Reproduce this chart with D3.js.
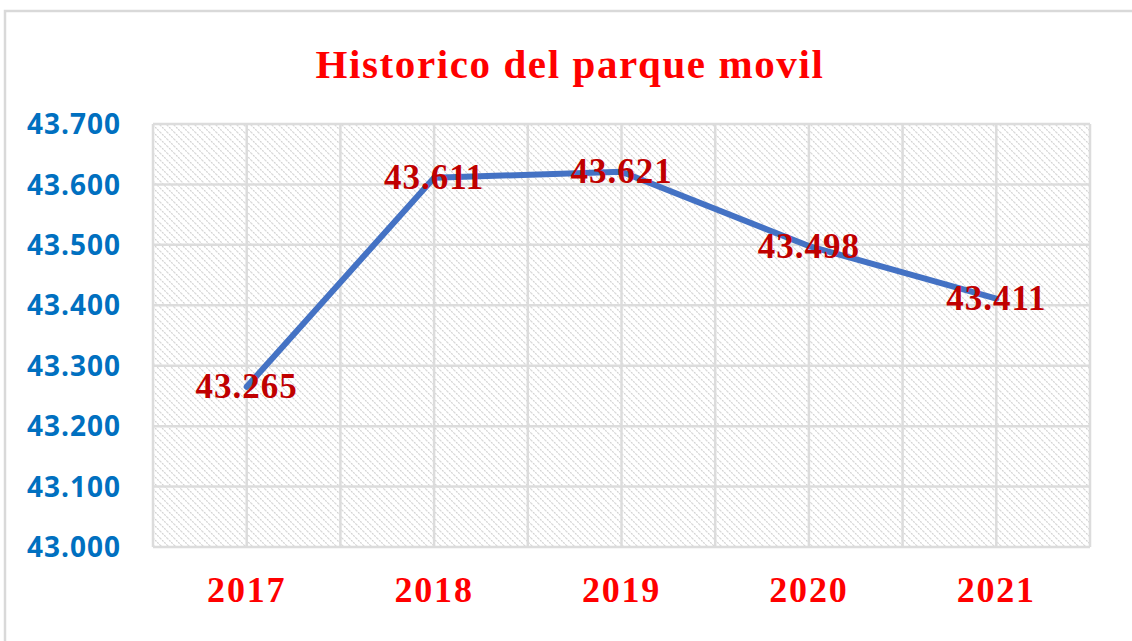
<!DOCTYPE html>
<html lang="es">
<head>
<meta charset="UTF-8">
<title>Historico del parque movil</title>
<script src="https://d3js.org/d3.v7.min.js"></script>
<style>
  body { margin: 0; background: #fff; }
  svg { display: block; }
</style>
</head>
<body>
<svg width="1132" height="641"></svg>
<script>
// chart data
const years = ["2017", "2018", "2019", "2020", "2021"];
const parque = [43265, 43611, 43621, 43498, 43411];
const yTicks = [43000, 43100, 43200, 43300, 43400, 43500, 43600, 43700];
const titulo = "Historico del parque movil";

const svg = d3.select("svg");
const margin = { left: 153, top: 124, right: 1090, bottom: 547 };

// spanish style number: 43.265
const es = d3.formatLocale({ decimal: ",", thousands: ".", grouping: [3], currency: ["", "€"] });
const fmt = es.format(",d");

// outer frame (cut by the window at right and bottom)
svg.append("rect")
  .attr("x", 5).attr("y", 11).attr("width", 1140).attr("height", 650)
  .attr("fill", "#fff").attr("stroke", "#d9d9d9").attr("stroke-width", 2.5);

// hatch pattern for plot background
const defs = svg.append("defs");
const pat = defs.append("pattern")
  .attr("id", "hatch").attr("patternUnits", "userSpaceOnUse")
  .attr("width", 7).attr("height", 7);
pat.append("path").attr("d", "M-1,-1 L8,8 M-1,6 L1,8 M6,-1 L8,1")
  .attr("stroke", "#d2d2d2").attr("stroke-width", 1.2)
  .attr("stroke-dasharray", "2,1");

const x = d3.scalePoint().domain(years).range([margin.left, margin.right]).padding(0.5);
const xb = d3.scaleBand().domain(years).range([margin.left, margin.right]);
const y = d3.scaleLinear().domain([43000, 43700]).range([margin.bottom, margin.top]);

svg.append("rect")
  .attr("x", margin.left).attr("y", margin.top)
  .attr("width", margin.right - margin.left).attr("height", margin.bottom - margin.top)
  .attr("fill", "url(#hatch)");

// horizontal gridlines
svg.append("g").selectAll("line").data(yTicks).join("line")
  .attr("x1", margin.left).attr("x2", margin.right)
  .attr("y1", d => y(d)).attr("y2", d => y(d))
  .attr("stroke", "#dcdcdc").attr("stroke-width", 2.5);

// vertical gridlines at category edges and centres
const vLines = years.map(d => xb(d)).concat([margin.right]).concat(years.map(d => x(d)));
svg.append("g").selectAll("line").data(vLines).join("line")
  .attr("x1", d => d).attr("x2", d => d)
  .attr("y1", margin.top).attr("y2", margin.bottom)
  .attr("stroke", "#dcdcdc").attr("stroke-width", 2.5);

// y axis labels
svg.append("g").selectAll("text").data(yTicks).join("text")
  .attr("x", 121).attr("y", d => y(d))
  .attr("dy", "0.36em")
  .attr("text-anchor", "end")
  .attr("font-family", "'Open Sans', sans-serif")
  .attr("font-weight", "bold").attr("font-size", 28)
  .attr("letter-spacing", 1)
  .attr("fill", "#0070c0")
  .text(d => fmt(d));

// x axis labels
svg.append("g").selectAll("text").data(years).join("text")
  .attr("x", d => x(d)).attr("y", 602)
  .attr("text-anchor", "middle")
  .attr("font-family", "'Liberation Serif', serif")
  .attr("font-weight", "bold").attr("font-size", 36)
  .attr("letter-spacing", 1.8)
  .attr("fill", "#ff0000")
  .text(d => d);

// title
svg.append("text")
  .attr("x", 570).attr("y", 78)
  .attr("text-anchor", "middle")
  .attr("font-family", "'Liberation Serif', serif")
  .attr("font-weight", "bold").attr("font-size", 41)
  .attr("letter-spacing", 1.6)
  .attr("fill", "#ff0000")
  .text(titulo);

// line
const line = d3.line().x((d, i) => x(years[i])).y(d => y(d));
svg.append("path").datum(parque)
  .attr("d", line)
  .attr("fill", "none")
  .attr("stroke", "#4472c4").attr("stroke-width", 6)
  .attr("stroke-linejoin", "round").attr("stroke-linecap", "round");

// data labels centred on points
svg.append("g").selectAll("text").data(parque).join("text")
  .attr("x", (d, i) => x(years[i])).attr("y", d => y(d))
  .attr("dy", "0.33em")
  .attr("text-anchor", "middle")
  .attr("font-family", "'Liberation Serif', serif")
  .attr("font-weight", "bold").attr("font-size", 35)
  .attr("letter-spacing", 1)
  .attr("fill", "#c00000")
  .text(d => fmt(d));
</script>
</body>
</html>
